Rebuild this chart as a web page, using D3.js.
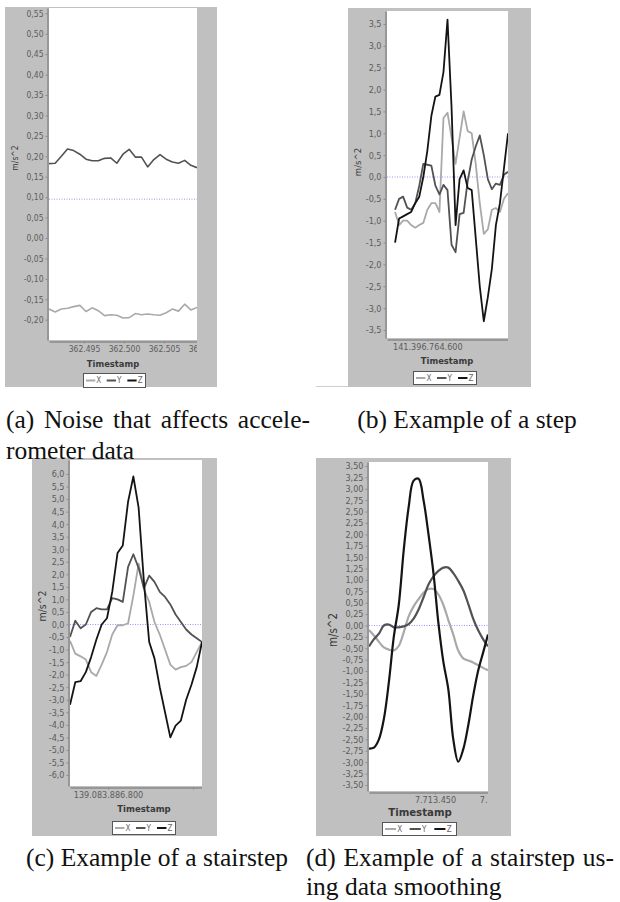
<!DOCTYPE html>
<html>
<head>
<meta charset="utf-8">
<script src="https://cdn.jsdelivr.net/npm/d3@7"></script>
<style>
  body { margin: 0; background: #fff; }
  .tick text { font-family: "DejaVu Sans Condensed", "DejaVu Sans", sans-serif; font-stretch: condensed; }
</style>
</head>
<body>
<svg id="fig" width="620" height="902"></svg>
<script>
// (a) noise on the accelerometer, Z is off scale so only X and Y show
const aTimeRange = [362490.625, 362509.125];
const aXTicks = [362495, 362500, 362505, 362510];
const aYTicks = [-0.20, -0.15, -0.10, -0.05, 0.00, 0.05, 0.10, 0.15, 0.20, 0.25, 0.30, 0.35, 0.40, 0.45, 0.50, 0.55];
const aX = [-0.174, -0.181, -0.174, -0.172, -0.168, -0.165, -0.180, -0.171, -0.178, -0.190, -0.188, -0.189, -0.196,
            -0.195, -0.185, -0.188, -0.186, -0.188, -0.189, -0.183, -0.174, -0.179, -0.162, -0.176, -0.170];
const aY = [0.182, 0.183, 0.200, 0.218, 0.214, 0.205, 0.193, 0.189, 0.189, 0.195, 0.196, 0.183, 0.205,
            0.217, 0.198, 0.198, 0.174, 0.192, 0.204, 0.193, 0.186, 0.183, 0.190, 0.178, 0.172];
const aMarker = 0.095;

// (b) one step
const bTimeRange = [141396764500, 141396764800];
const bSampleRange = [141396764520, 141396764800];
const bXTicks = [141396764600];
const bYTicks = [-3.5, -3.0, -2.5, -2.0, -1.5, -1.0, -0.5, 0.0, 0.5, 1.0, 1.5, 2.0, 2.5, 3.0, 3.5];
const bX = [-0.80, -1.10, -1.00, -1.00, -1.10, -1.16, -1.10, -1.05, -0.75, -0.60, -0.60, -0.80, 1.35, 1.47, 0.90,
            0.30, 0.90, 1.50, 1.05, 1.00, 0.30, -0.60, -1.30, -1.20, -0.75, -0.71, -0.80, -0.50, -0.37];
const bY = [-0.75, -0.50, -0.45, -0.70, -0.75, -0.60, -0.20, 0.30, 0.28, 0.26, -0.20, -0.40, -0.18, -0.30, -1.55,
            -1.72, -0.85, -0.82, -0.10, 0.40, 0.70, 0.95, 0.50, -0.05, -0.28, -0.15, -0.18, 0.05, 0.12];
const bZ = [-1.50, -0.95, -0.90, -0.85, -0.80, -0.60, -0.45, 0.00, 0.60, 1.40, 1.84, 1.88, 2.40, 3.60, 1.60,
            -1.10, -0.05, 0.15, -0.25, -0.30, -1.40, -2.50, -3.30, -2.75, -2.10, -1.10, -0.60, 0.20, 1.00];

// (c) stairstep
const cTimeRange = [139083886755.3, 139083886910.6];
const cXTicks = [139083886800, 139083886900];
const cXLabels = [139083886800];
const cYTicks = [-6.0, -5.5, -5.0, -4.5, -4.0, -3.5, -3.0, -2.5, -2.0, -1.5, -1.0, -0.5, 0.0,
                 0.5, 1.0, 1.5, 2.0, 2.5, 3.0, 3.5, 4.0, 4.5, 5.0, 5.5, 6.0];
const cX = [-0.65, -1.16, -1.27, -1.40, -1.90, -2.05, -1.60, -1.10, -0.40, -0.03, -0.03, 0.05, 1.15,
            2.43, 1.40, 0.90, 0.10, -0.40, -1.00, -1.60, -1.80, -1.70, -1.65, -1.50, -1.10, -0.70];
const cY = [-0.50, 0.15, -0.15, 0.00, 0.50, 0.65, 0.60, 0.60, 1.05, 1.00, 0.90, 2.30, 2.80,
            2.25, 1.45, 1.95, 1.70, 1.30, 1.10, 0.80, 0.40, 0.10, -0.20, -0.40, -0.55, -0.70];
const cZ = [-3.20, -2.30, -2.26, -1.90, -1.30, -0.60, 0.00, 0.25, 1.30, 2.85, 3.15, 4.90, 5.90,
            4.65, 1.70, -0.70, -1.35, -2.50, -3.50, -4.50, -4.03, -3.83, -3.00, -2.40, -1.70, -0.70];

// (d) stairstep with smoothing
const dTimeRange = [7713399.2, 7713490.8];
const dXTicks = [7713450, 7713500];
const dYTicks = [-3.50, -3.25, -3.00, -2.75, -2.50, -2.25, -2.00, -1.75, -1.50, -1.25, -1.00, -0.75, -0.50, -0.25, 0.00,
                 0.25, 0.50, 0.75, 1.00, 1.25, 1.50, 1.75, 2.00, 2.25, 2.50, 2.75, 3.00, 3.25, 3.50];
const dX = [-0.10, -0.22, -0.36, -0.48, -0.53, -0.55, -0.45, -0.15, 0.20, 0.42, 0.58, 0.72, 0.80,
            0.80, 0.68, 0.45, 0.12, -0.20, -0.55, -0.72, -0.77, -0.81, -0.87, -0.93, -0.98];
const dY = [-0.46, -0.30, -0.18, 0.00, 0.02, -0.04, -0.04, -0.02, 0.03, 0.15, 0.35, 0.62, 0.90,
            1.08, 1.20, 1.27, 1.27, 1.15, 0.98, 0.78, 0.48, 0.15, -0.10, -0.30, -0.46];
const dZ = [-2.70, -2.68, -2.50, -2.05, -1.25, -0.25, 0.45, 1.65, 2.60, 3.18, 3.22, 2.75, 2.00,
            1.15, 0.05, -0.80, -1.40, -2.50, -2.99, -2.72, -2.20, -1.55, -1.00, -0.60, -0.20];

const seriesNames = ["X", "Y", "Z"];
const seriesColors = ["#a9a9a9", "#525252", "#141414"];

const loc = d3.formatLocale({ decimal: ",", thousands: ".", grouping: [3], currency: ["", ""], minus: "-" });
const svg = d3.select("#fig");

const panels = [
  { bg: [5, 7, 217, 387], plot: [49, 8, 197, 340], xDomain: aTimeRange, samples: aTimeRange,
    yDomain: [-0.2497, 0.563], yTicks: aYTicks, yFmt: ",.2f", xTicks: aXTicks, xLabels: aXTicks,
    marker: aMarker, series: [aX, aY, null], tickFont: 8.5, unitFont: 8.5, unitPos: [15, 158],
    tsFont: 9.3, tsPos: [113, 367], legend: [83, 373, 62, 14], width: 1.6 },
  { bg: [348, 8, 531, 387], plot: [387, 11, 508, 338], xDomain: bTimeRange, samples: bSampleRange,
    yDomain: [-3.683, 3.797], yTicks: bYTicks, yFmt: ",.1f", xTicks: bXTicks, xLabels: bXTicks,
    marker: 0, series: [bX, bY, bZ], tickFont: 9, unitFont: 9.5, unitPos: [358, 162],
    tsFont: 9.3, tsPos: [447, 364], legend: [413, 371, 63, 13], width: 1.8 },
  { bg: [32, 458, 217, 836], plot: [70, 460, 202, 786], xDomain: cTimeRange, samples: cTimeRange,
    yDomain: [-6.439, 6.558], yTicks: cYTicks, yFmt: ",.1f", xTicks: cXTicks, xLabels: cXLabels,
    marker: 0, series: [cX, cY, cZ], tickFont: 9, unitFont: 10.5, unitPos: [42, 606],
    tsFont: 9.5, tsPos: [144, 812], legend: [112, 821, 63, 13], width: 1.8 },
  { bg: [316, 458, 511, 836], plot: [369, 462, 488, 791], xDomain: dTimeRange, samples: dTimeRange,
    yDomain: [-3.632, 3.588], yTicks: dYTicks, yFmt: ",.2f", xTicks: dXTicks, xLabels: dXTicks,
    marker: 0, series: [dX, dY, dZ], tickFont: 9, unitFont: 11.5, unitPos: [333, 630],
    tsFont: 11.3, tsPos: [420, 816], legend: [382, 822, 74, 13], width: 2.2, smooth: true }
];

panels.forEach((p, pi) => {
  const [l, t, r, b] = p.plot;
  const g = svg.append("g");

  g.append("rect")
    .attr("x", p.bg[0]).attr("y", p.bg[1])
    .attr("width", p.bg[2] - p.bg[0]).attr("height", p.bg[3] - p.bg[1])
    .attr("fill", "#c0c0c0");
  g.append("rect")
    .attr("x", l).attr("y", t).attr("width", r - l).attr("height", b - t)
    .attr("fill", "#fff");

  const x = d3.scaleLinear().domain(p.xDomain).range([l, r]);
  const y = d3.scaleLinear().domain(p.yDomain).range([b, t]);

  // y axis
  const yAx = g.append("g")
    .attr("transform", `translate(${l - 1.5},0)`)
    .call(d3.axisLeft(y).tickValues(p.yTicks).tickFormat(loc.format(p.yFmt)).tickSize(2).tickSizeOuter(0).tickPadding(2));
  yAx.select(".domain").attr("stroke", "#8a8a8a").attr("stroke-width", 1.5);
  yAx.selectAll(".tick line").attr("stroke", "#8a8a8a");
  yAx.selectAll(".tick text").attr("fill", "#5c5c5c").attr("font-size", p.tickFont);

  // x axis, clipped to plot width like the original
  const clipId = "xclip" + pi;
  svg.append("clipPath").attr("id", clipId)
    .append("rect").attr("x", l - 3).attr("y", b).attr("width", r - l + 3).attr("height", 20);
  const fmtX = loc.format(",.0f");
  const xAx = g.append("g")
    .attr("clip-path", `url(#${clipId})`)
    .append("g")
    .attr("transform", `translate(0,${b + 1.5})`)
    .call(d3.axisBottom(x).tickValues(p.xTicks)
      .tickFormat(d => p.xLabels.includes(d) ? fmtX(d) : "")
      .tickSize(2).tickSizeOuter(0).tickPadding(2));
  xAx.select(".domain").attr("stroke", "#8a8a8a").attr("stroke-width", 1.5);
  xAx.selectAll(".tick line").attr("stroke", "#8a8a8a");
  xAx.selectAll(".tick text").attr("fill", "#5c5c5c").attr("font-size", p.tickFont);

  // dotted reference line
  g.append("line")
    .attr("x1", l).attr("x2", r)
    .attr("y1", y(p.marker)).attr("y2", y(p.marker))
    .attr("stroke", "#7b7bff").attr("stroke-width", 0.8)
    .attr("stroke-dasharray", "1,1.5");

  // series
  const plotClip = "pclip" + pi;
  svg.append("clipPath").attr("id", plotClip)
    .append("rect").attr("x", l).attr("y", t).attr("width", r - l).attr("height", b - t);
  const lines = g.append("g").attr("clip-path", `url(#${plotClip})`);
  p.series.forEach((vals, si) => {
    if (!vals) return;
    const tOf = d3.scaleLinear().domain([0, vals.length - 1]).range(p.samples);
    const line = d3.line()
      .x((d, i) => x(tOf(i)))
      .y(d => y(d))
      .curve(p.smooth ? d3.curveCatmullRom : d3.curveLinear);
    lines.append("path")
      .datum(vals)
      .attr("d", line)
      .attr("fill", "none")
      .attr("stroke", seriesColors[si])
      .attr("stroke-width", p.width)
      .attr("stroke-linejoin", "round");
  });

  // axis titles
  g.append("text")
    .attr("transform", `translate(${p.unitPos[0]},${p.unitPos[1]}) rotate(-90)`)
    .attr("text-anchor", "middle").attr("dy", "0.35em")
    .attr("font-family", "DejaVu Sans Condensed, DejaVu Sans, sans-serif")
    .attr("font-size", p.unitFont).attr("fill", "#3a3a3a")
    .text("m/s^2");
  g.append("text")
    .attr("x", p.tsPos[0]).attr("y", p.tsPos[1])
    .attr("text-anchor", "middle")
    .attr("font-family", "DejaVu Sans Condensed, DejaVu Sans, sans-serif")
    .attr("font-weight", "bold")
    .attr("font-size", p.tsFont).attr("fill", "#3a3a3a")
    .text("Timestamp");

  // legend
  const [lx, ly, lw, lh] = p.legend;
  const lg = g.append("g");
  lg.append("rect")
    .attr("x", lx + 0.5).attr("y", ly + 0.5).attr("width", lw).attr("height", lh)
    .attr("fill", "#fff").attr("stroke", "#555");
  const step = lw / 3;
  seriesNames.forEach((name, si) => {
    const ix = lx + 3 + si * step;
    lg.append("line")
      .attr("x1", ix).attr("x2", ix + step * 0.45)
      .attr("y1", ly + lh / 2 + 0.5).attr("y2", ly + lh / 2 + 0.5)
      .attr("stroke", seriesColors[si]).attr("stroke-width", 2);
    lg.append("text")
      .attr("x", ix + step * 0.5).attr("y", ly + lh / 2 + 0.5)
      .attr("dy", "0.35em")
      .attr("font-family", "DejaVu Sans Condensed, DejaVu Sans, sans-serif")
      .attr("font-size", 8).attr("fill", "#666")
      .text(name);
  });
});

// small rule under the left margin of (b)
svg.append("line")
  .attr("x1", 316).attr("x2", 348).attr("y1", 386.5).attr("y2", 386.5)
  .attr("stroke", "#cfcfcf");

// captions: single lines centred in their column, wrapped first lines justified
const captions = [
  { x: 6, y: 428, text: "(a) Noise that affects accele-", width: 304 },
  { x: 6, y: 459, text: "rometer data" },
  { x: 467, y: 428, text: "(b) Example of a step", center: true },
  { x: 157, y: 866, text: "(c) Example of a stairstep", center: true },
  { x: 306, y: 866, text: "(d) Example of a stairstep us-", width: 308 },
  { x: 306, y: 895, text: "ing data smoothing" }
];
captions.forEach(c => {
  const t = svg.append("text")
    .attr("x", c.x).attr("y", c.y)
    .attr("text-anchor", c.center ? "middle" : "start")
    .attr("font-family", "Liberation Serif, serif")
    .attr("font-size", 25.5).attr("fill", "#111")
    .text(c.text);
  if (c.width) {
    const w = t.node().getComputedTextLength();
    const gaps = c.text.split(" ").length - 1;
    t.style("word-spacing", ((c.width - w) / gaps) + "px");
  }
});
</script>
</body>
</html>
